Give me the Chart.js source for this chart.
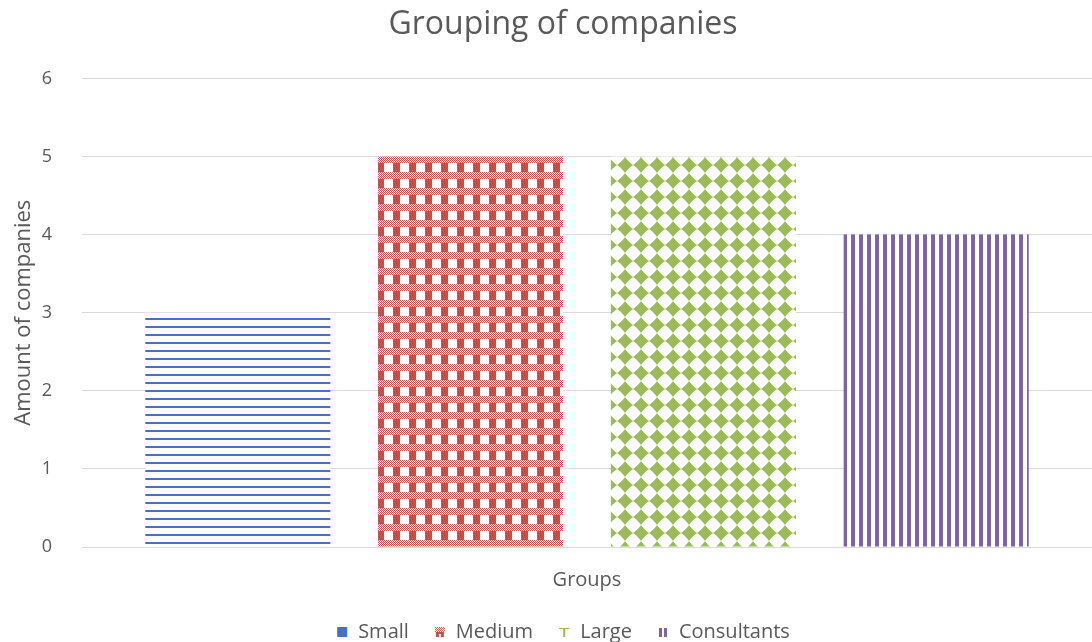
<!DOCTYPE html>
<html>
<head>
<meta charset="utf-8">
<script src="https://cdn.jsdelivr.net/npm/chart.js@4"></script>
<style>
  html, body { margin: 0; padding: 0; background: #fff; }
  #wrap { width: 1092px; height: 642px; }
</style>
</head>
<body>
<div id="wrap"><canvas id="chart" width="1092" height="642"></canvas></div>
<script>
const categories = ["Groups"];
const seriesNames = ["Small", "Medium", "Large", "Consultants"];
const seriesValues = [[3], [5], [5], [4]];
const yTicks = [0, 1, 2, 3, 4, 5, 6];

const BLUE = "#4472C4", RED = "#C0504D", GREEN = "#9BBB59", PURPLE = "#8064A2";
const TEXT = "#595959";

// builds a repeating tile; rects wrap around the tile edges
function tile(w, h, draw) {
  const c = document.createElement("canvas");
  c.width = w; c.height = h;
  const g = c.getContext("2d");
  g.fillStyle = "#fff";
  g.fillRect(0, 0, w, h);
  const rect = (x, y, rw, rh) => {
    for (const dx of [-w, 0, w]) for (const dy of [-h, 0, h]) g.fillRect(x + dx, y + dy, rw, rh);
  };
  draw(g, rect);
  return c;
}

// horizontal lines
const smallTile = tile(8, 8, (g, rect) => {
  g.fillStyle = BLUE;
  rect(0, 6, 8, 2);
});

// plaid: fine checker band over a half-width solid block
const mediumTile = tile(16, 16, (g, rect) => {
  g.fillStyle = RED;
  const ox = 8, oy = 12;
  for (let y = 0; y < 7; y++) {
    for (let x = 0; x < 16; x++) {
      if ((x + y) % 2 === 0) rect(ox + x, oy + y, 1, 1);
    }
  }
  rect(ox + 1, oy + 7, 7, 9);
});

// diamond grid
const largeTile = tile(16, 16, g => {
  g.fillStyle = GREEN;
  for (const dx of [-16, 0, 16]) for (const dy of [-16, 0, 16]) {
    const cx = 1 + dx, cy = 5 + dy;
    g.beginPath();
    g.moveTo(cx, cy - 8);
    g.quadraticCurveTo(cx + 3.2, cy - 3.2, cx + 8, cy);
    g.quadraticCurveTo(cx + 3.2, cy + 3.2, cx, cy + 8);
    g.quadraticCurveTo(cx - 3.2, cy + 3.2, cx - 8, cy);
    g.quadraticCurveTo(cx - 3.2, cy - 3.2, cx, cy - 8);
    g.fill();
  }
});

// vertical lines
const consultTile = tile(8, 8, (g, rect) => {
  g.fillStyle = PURPLE;
  rect(3, 0, 4, 8);
});

const ctx = document.getElementById("chart").getContext("2d");
const fills = [smallTile, mediumTile, largeTile, consultTile].map(t => ctx.createPattern(t, "repeat"));

// small legend markers
function marker(draw) {
  const c = document.createElement("canvas");
  c.width = 12; c.height = 12;
  draw(c.getContext("2d"));
  return c;
}
const markers = [
  marker(g => { g.fillStyle = BLUE; g.fillRect(1, 1, 10, 10); }),
  marker(g => {
    g.fillStyle = RED;
    for (let y = 1; y < 6; y++) for (let x = 1; x < 11; x++) if ((x + y) % 2 === 0) g.fillRect(x, y, 1, 1);
    g.fillRect(2, 6, 8, 5);
    g.fillStyle = "#fff"; g.fillRect(5, 8, 2, 3);
  }),
  marker(g => { g.fillStyle = GREEN; g.fillRect(1, 2, 10, 1); g.fillRect(5, 2, 2, 9); }),
  marker(g => { g.fillStyle = PURPLE; g.fillRect(2, 2, 3, 9); g.fillRect(7, 2, 3, 9); })
];

const FONT = "'Open Sans', sans-serif";

new Chart(ctx, {
  type: "bar",
  data: {
    labels: categories,
    datasets: seriesNames.map((name, i) => ({
      label: name,
      data: seriesValues[i],
      backgroundColor: fills[i],
      borderWidth: 0,
      categoryPercentage: 0.922,
      barPercentage: 0.795
    }))
  },
  options: {
    responsive: false,
    animation: false,
    layout: { padding: { left: 24, right: -10, top: 0, bottom: -10 } },
    plugins: {
      title: {
        display: true,
        text: "Grouping of companies",
        color: TEXT,
        font: { family: FONT, size: 32, weight: "normal" },
        padding: { top: 6, bottom: 34 }
      },
      legend: {
        position: "bottom",
        labels: {
          color: TEXT,
          font: { family: FONT, size: 20 },
          usePointStyle: true,
          boxWidth: 12,
          boxHeight: 12,
          padding: 25,
          generateLabels: chart => chart.data.datasets.map((ds, i) => ({
            text: ds.label,
            pointStyle: markers[i],
            fontColor: TEXT,
            lineWidth: 0,
            strokeStyle: "transparent",
            datasetIndex: i
          }))
        }
      },
      tooltip: { enabled: false }
    },
    scales: {
      x: {
        grid: { display: false },
        border: { display: false },
        ticks: { color: TEXT, font: { family: FONT, size: 20 }, padding: 13 },
        afterFit: scale => { scale.height = 50; }
      },
      y: {
        min: 0,
        max: 6,
        afterBuildTicks: axis => { axis.ticks = yTicks.map(v => ({ value: v })); },
        afterFit: scale => { scale.width = 58; },
        grid: { color: "#d9d9d9", drawTicks: false, lineWidth: 1 },
        border: { display: false },
        ticks: { color: TEXT, font: { family: FONT, size: 18 }, padding: 30 },
        title: {
          display: true,
          text: "Amount of companies",
          color: TEXT,
          font: { family: FONT, size: 22 },
          padding: { top: -13, bottom: 0 }
        }
      }
    }
  }
});
</script>
</body>
</html>
